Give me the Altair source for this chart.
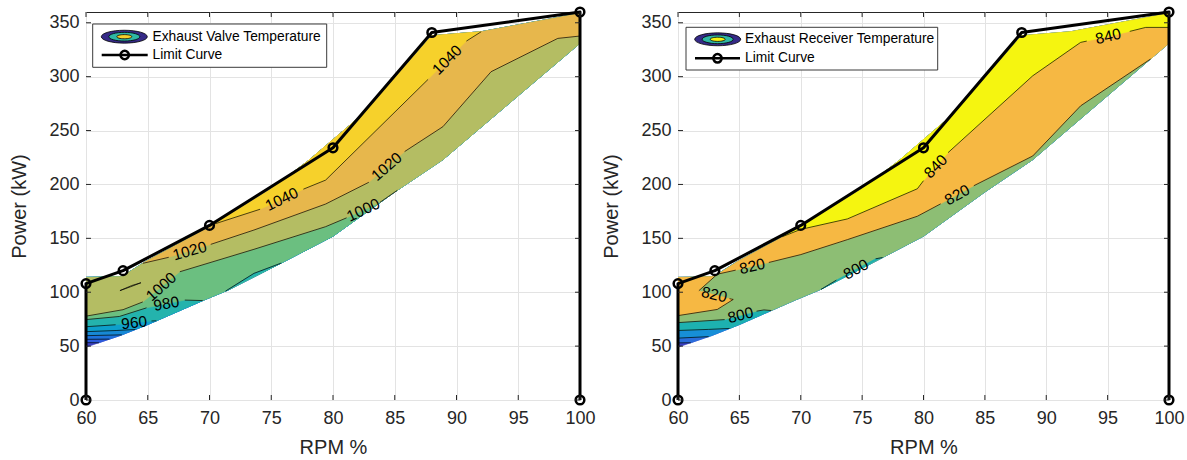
import altair as alt
import pandas as pd

FONT = "Liberation Sans"

# ---------------- axis ticks ----------------
X_TICKS = [60, 65, 70, 75, 80, 85, 90, 95, 100]
Y_TICKS = [0, 50, 100, 150, 200, 250, 300, 350]

# ---------------- limit curve ----------------
LIMIT_RPM = [60, 60, 63, 70, 80, 88, 100, 100]
LIMIT_KW = [0, 108, 120, 162, 234, 341, 360, 0]

# ---------------- measured-data envelope (RPM %, kW) ----------------
UPPER_RPM = [60, 62.9, 64.7, 70, 75, 78, 80.6, 82.5, 88, 92, 100]
UPPER_KW = [113.8, 114.5, 127.5, 160.5, 196, 222, 247.5, 266, 338, 341.7, 358.7]
LOWER_RPM = [60, 62.8, 65, 69.5, 71.5, 75.8, 80, 85, 88.9, 92.8, 100]
LOWER_KW = [49, 60, 70, 92.5, 102, 127, 152, 193, 223, 261, 331]

# ---------------- Exhaust valve temperature contours ----------------
VALVE_LEVELS = [880, 900, 920, 940, 960, 980, 1000, 1020, 1040]
VALVE_COLORS = ["#3C40C4", "#2C5BDB", "#1E72DC", "#1789D5", "#0E9FCB",
                "#24B3AD", "#6BBF80", "#B4BD63", "#E7B74C", "#F6D12B"]
# (level, side, segments) ; segments separated by label gaps
VALVE_CONTOURS = [
    (880, "high", [[(60, 53.2), (61.05, 53.1)]]),
    (900, "high", [[(60, 56.3), (61.9, 56.5)]]),
    (920, "high", [[(60, 59.7), (62.9, 60.45)]]),
    (940, "high", [[(60, 63.4), (62.5, 64.5), (64.0, 65.45)]]),
    (960, "high", [[(60, 68.0), (62.4, 69.8)], [(65.3, 73.3), (65.7, 73.5)]]),
    (980, "high", [[(60, 74.6), (62.7, 77.5), (64.9, 85.5)], [(68.0, 92.7), (69.45, 92.25)]]),
    (980, "low", [[(71.3, 101.05), (73.6, 117.5), (75.8, 127)]]),
    (1000, "high", [[(60, 77.8), (63, 83.8), (64.6, 91.0)],
                    [(67.6, 119.0), (73.6, 139.8), (79.4, 160.8), (81.1, 169)],
                    [(83.8, 183.4), (85.2, 194.5)]]),
    (1020, "high", [[(64.6, 126.8), (66.7, 132.4)],
                    [(70.1, 144.4), (73.6, 157.7), (79.4, 181.8), (82.9, 202)],
                    [(85.8, 230.5), (88.9, 253.6), (92.8, 304.6), (98.2, 335.5), (100, 337.7)]]),
    (1040, "high", [[(70.4, 163.3), (74.1, 177.0)],
                    [(77.6, 195.6), (79.4, 204), (87.7, 297.5)],
                    [(90.8, 333), (92, 341.7)]]),
]
VALVE_LOOPS = [[(62.75, 101.5), (63.6, 105), (64.45, 108.8), (63.7, 106.2), (62.75, 101.5)]]
VALVE_LABELS = [("1040", 89.25, 315.5, 315), ("1040", 75.85, 186.3, 334),
                ("1020", 68.4, 138.2, 344), ("1020", 84.35, 216.4, 319),
                ("1000", 66.1, 105.0, 318), ("1000", 82.45, 176.2, 335),
                ("980", 66.5, 89.3, 350), ("960", 63.9, 71.6, 354)]

# ---------------- Exhaust receiver temperature contours ----------------
RECV_LEVELS = [740, 760, 780, 800, 820, 840]
RECV_COLORS = ["#3B3FC7", "#2A6DDB", "#178FD7", "#1DB1B0", "#8DBE74", "#F6B843", "#F5F510"]
RECV_CONTOURS = [
    (740, "high", [[(60, 53.0), (61.05, 53.1)]]),
    (760, "high", [[(60, 57.4), (62.5, 58.8)]]),
    (780, "high", [[(60, 64.5), (62.5, 65.5), (64.2, 66.4)]]),
    (800, "high", [[(60, 71.8), (63.8, 74.6)], [(66.4, 82.4), (67.0, 83.6), (67.6, 83.0)]]),
    (800, "low", [[(71.65, 102.6), (72.9, 111.2)], [(76.1, 131.0), (76.67, 132.2)]]),
    (820, "high", [[(60, 78.3), (63.2, 84.0), (64.5, 93.3), (64.2, 94.0)],
                   [(61.7, 101.4), (63.2, 116.7)]]),
    (820, "high", [[(63.2, 116.7), (64.7, 120.5)],
                   [(67.4, 127.6), (70, 134.9), (73.8, 148.8), (79.5, 170.5), (81.4, 182)],
                   [(84.1, 198.8), (88.9, 226.4), (92.8, 272.9), (98.5, 316.4)]]),
    (840, "high", [[(68.5, 151.5), (70, 158.3), (73.8, 168.0), (79.5, 196), (80.0, 203.5)],
                   [(82.0, 229.5), (88.9, 300.8), (92.8, 331.8), (93.3, 333.0)],
                   [(96.8, 342.0), (98.1, 345.7), (100, 345.7)]]),
]
RECV_LOOPS = []
RECV_LABELS = [("840", 95.05, 337.4, 347), ("840", 81.0, 216.7, 315),
               ("820", 66.05, 124.0, 347), ("820", 82.75, 190.2, 331),
               ("820", 62.95, 97.7, 14), ("800", 65.1, 78.6, 346),
               ("800", 74.5, 121.2, 331)]

ELLIPSE = "M-1,0 A1,0.28 0 1,1 1,0 A1,0.28 0 1,1 -1,0 Z"

H = 388
SX, SY = 12.3, 1.077


def seg_param(p, a, b):
    ax, ay, bx, by = a[0] * SX, a[1] * SY, b[0] * SX, b[1] * SY
    px, py = p[0] * SX, p[1] * SY
    dx, dy = bx - ax, by - ay
    l2 = dx * dx + dy * dy
    t = 0.0 if l2 == 0 else max(0.0, min(1.0, ((px - ax) * dx + (py - ay) * dy) / l2))
    qx, qy = ax + t * dx, ay + t * dy
    return t, (px - qx) ** 2 + (py - qy) ** 2


def loop_pos(p, loop):
    n = len(loop)
    best = (1e18, 0.0)
    for i in range(n):
        t, d = seg_param(p, loop[i], loop[(i + 1) % n])
        if d < best[0]:
            best = (d, i + t)
    return best[1]


def region(points, loop):
    n = len(loop)
    a = loop_pos(points[0], loop)
    b = loop_pos(points[-1], loop)
    span = (a - b) % n
    extra = []
    for k in range(n):
        d = (k - b) % n
        if 1e-6 < d < span - 1e-6:
            extra.append((d, loop[k]))
    extra.sort()
    return list(points) + [p for _, p in extra]


def X_():
    return alt.X("x:Q", scale=alt.Scale(domain=[60, 100], nice=False, zero=False),
                 axis=alt.Axis(values=X_TICKS, title="RPM %", grid=True, ticks=False, tickSize=0,
                               domain=False, labelFlush=False, labelOverlap=False,
                               labelPadding=9, titlePadding=10))


def Y_():
    return alt.Y("y:Q", scale=alt.Scale(domain=[0, 360], nice=False, zero=False),
                 axis=alt.Axis(values=Y_TICKS, title="Power (kW)", grid=True, ticks=False, tickSize=0,
                               domain=False, labelOverlap=False, labelPadding=7, titlePadding=19))


def build_panel(levels, colors, contours, loops, labels, legend, width):
    loop = list(zip(LOWER_RPM, LOWER_KW)) + list(zip(UPPER_RPM, UPPER_KW))[::-1]
    polys = [(loop, colors[0])]
    for level, side, segs in contours:
        pts = [p for s in segs for p in s]
        i = levels.index(level)
        if side == "high":
            polys.append((region(pts, loop), colors[i + 1]))
        else:
            polys.append((region(pts[::-1], loop), colors[i]))

    layers = []
    for pts, col in polys:
        df = pd.DataFrame({"x": [p[0] for p in pts], "y": [p[1] for p in pts],
                           "i": list(range(len(pts)))})
        layers.append(alt.Chart(df).mark_line(fill=col, stroke=col, strokeWidth=0.6,
                                              strokeJoin="round")
                      .encode(x=X_(), y=Y_(), order="i:Q"))

    rows = []
    sid = 0
    for level, side, segs in contours:
        for s in segs:
            for j, p in enumerate(s):
                rows.append({"x": p[0], "y": p[1], "i": j, "s": sid})
            sid += 1
    for lp in loops:
        for j, p in enumerate(lp):
            rows.append({"x": p[0], "y": p[1], "i": j, "s": sid})
        sid += 1
    layers.append(alt.Chart(pd.DataFrame(rows)).mark_line(color="black", strokeWidth=0.7)
                  .encode(x=X_(), y=Y_(), detail="s:N", order="i:Q"))

    ldf = pd.DataFrame({"t": [l[0] for l in labels], "x": [l[1] for l in labels],
                        "y": [l[2] for l in labels], "a": [l[3] for l in labels]})
    layers.append(alt.Chart(ldf).mark_text(font=FONT, fontSize=15.5, color="black",
                                           align="center", baseline="middle")
                  .encode(x=X_(), y=Y_(), text="t:N", angle=alt.Angle("a:Q", scale=None)))

    lim = pd.DataFrame({"x": LIMIT_RPM, "y": LIMIT_KW, "i": list(range(len(LIMIT_RPM)))})
    layers.append(alt.Chart(lim).mark_line(color="black", strokeWidth=3, strokeJoin="round")
                  .encode(x=X_(), y=Y_(), order="i:Q"))
    layers.append(alt.Chart(lim).mark_point(shape="circle", filled=False, size=75,
                                            strokeWidth=2.5, color="black", opacity=1)
                  .encode(x=X_(), y=Y_()))

    xt = pd.DataFrame({"x": X_TICKS})
    yt = pd.DataFrame({"y": Y_TICKS})
    layers.append(alt.Chart(xt).mark_rule(color="#262626", strokeWidth=1)
                  .encode(x=X_(), y=alt.value(H), y2=alt.value(H - 5)))
    layers.append(alt.Chart(xt).mark_rule(color="#262626", strokeWidth=1)
                  .encode(x=X_(), y=alt.value(0), y2=alt.value(5)))
    layers.append(alt.Chart(yt).mark_rule(color="#262626", strokeWidth=1)
                  .encode(y=Y_(), x=alt.value(0), x2=alt.value(5)))
    layers.append(alt.Chart(yt).mark_rule(color="#262626", strokeWidth=1)
                  .encode(y=Y_(), x=alt.value(width), x2=alt.value(width - 5)))

    # legend (drawn inside the axes, like MATLAB's northwest legend)
    dummy = pd.DataFrame({"a": [0]})
    (bx0, by0, bx1, by1), (icx, icy), (lx0, lx1, ly), tx, text1, inner = legend
    layers.append(alt.Chart(dummy).mark_rect(fill="white", stroke="#3a3a3a", strokeWidth=1)
                  .encode(x=alt.value(bx0), x2=alt.value(bx1), y=alt.value(by0), y2=alt.value(by1)))
    for sz, col in [(2116, "#352A87"), (961, "#2EB7A4"), (225, inner)]:
        layers.append(alt.Chart(dummy).mark_point(shape=ELLIPSE, size=sz, filled=True, fill=col,
                                                  stroke="black", strokeWidth=0.8, opacity=1)
                      .encode(x=alt.value(icx), y=alt.value(icy)))
    layers.append(alt.Chart(dummy).mark_text(text=text1, font=FONT, fontSize=13.8, color="black",
                                             align="left", baseline="middle")
                  .encode(x=alt.value(tx), y=alt.value(icy)))
    layers.append(alt.Chart(dummy).mark_rule(color="black", strokeWidth=2.5)
                  .encode(x=alt.value(lx0), x2=alt.value(lx1), y=alt.value(ly)))
    layers.append(alt.Chart(dummy).mark_point(shape="circle", filled=False, size=70, strokeWidth=2.5,
                                              color="black", opacity=1)
                  .encode(x=alt.value((lx0 + lx1) / 2), y=alt.value(ly)))
    layers.append(alt.Chart(dummy).mark_text(text="Limit Curve", font=FONT, fontSize=13.8,
                                             color="black", align="left", baseline="middle")
                  .encode(x=alt.value(tx), y=alt.value(ly)))

    return alt.layer(*layers).properties(width=width, height=H)


left = build_panel(VALVE_LEVELS, VALVE_COLORS, VALVE_CONTOURS, VALVE_LOOPS, VALVE_LABELS,
                   ((6.7, 12, 240.7, 55.3), (38.3, 24.7), (15.7, 61.7, 43), 66.5,
                    "Exhaust Valve Temperature", "#F6D12B"), 494)
right = build_panel(RECV_LEVELS, RECV_COLORS, RECV_CONTOURS, RECV_LOOPS, RECV_LABELS,
                    ((8, 15.3, 259.7, 58), (39.7, 27.3), (17, 62, 46.3), 67,
                     "Exhaust Receiver Temperature", "#F5F510"), 491)

chart = alt.hconcat(left, right, spacing=5).properties(
    padding={"left": 9, "top": 2, "right": 0, "bottom": 0}
).configure_view(stroke="#262626", strokeWidth=1).configure_axis(
    labelFont=FONT, titleFont=FONT, labelFontSize=18, titleFontSize=20,
    labelColor="#262626", titleColor="#262626", titleFontWeight="normal",
    gridColor="#e3e3e3", gridWidth=1
)

chart.save("out.html", embed_options={"renderer": "svg", "actions": False})
